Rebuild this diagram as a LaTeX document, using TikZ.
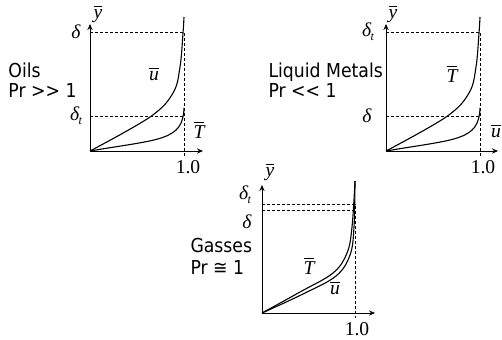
\documentclass[tikz,border=0pt]{standalone}
\usepackage{fontspec}
\setmainfont[FakeStretch=0.9]{DejaVu Sans}
\newfontfamily\tms{Liberation Serif}
\usetikzlibrary{arrows.meta, positioning}
\newcommand{\barit}[1]{$\overline{\hbox{\tms\itshape #1}}$}
\newcommand{\dlt}{{\tms\itshape δ}}
\newcommand{\dltt}{{\tms\itshape δ\kern-0.3pt\raisebox{-0.45ex}{\fontsize{6}{7}\selectfont t}}}
\tikzset{
  every picture/.style={x=0.5pt, y=-0.5pt, line width=0.5pt},
  axis/.style={-{Stealth[length=3pt, width=2.6pt]}},
  guide/.style={dash pattern=on 1.5pt off 1pt},
  profile/.style={line width=0.55pt},
  sym/.style={font=\tms\fontsize{9.8}{12}\selectfont, inner sep=0pt},
  fluid/.style={font=\fontsize{9.6}{10}\selectfont, align=left, anchor=west, inner sep=0pt},
}

\begin{document}
\begin{tikzpicture}
  \useasboundingbox (0,0) rectangle (502,339);

  % oils, Pr >> 1
  \begin{scope}[shift={(90,151)}]
    \coordinate (o1) at (0,0);
    \draw[axis] (o1) -- (0,-127) coordinate (ytip1);
    \draw[axis] (o1) -- (113,0) coordinate (xtip1);
    \draw[guide] (0,-119) -- (94,-119) -- (94,6);
    \draw[guide] (0,-35) -- (94,-35);
    \draw[profile] plot[smooth, tension=0.6] coordinates {(0,0) (60,-34) (83,-58) (90,-84) (93,-118) (94,-134)};
    \draw[profile] (o1) .. controls (70,-12) and (93,-10) .. (94,-43);
  \end{scope}
  \node[fluid] (oils) at (8,80) {Oils\\Pr >{}> 1};
  \node[sym] (y1) at (98,14) {\barit{y}};
  \node[sym] (d1) at (76,32) {\dlt};
  \node[sym] (dt1) at (76,116) {\dltt};
  \node[sym] (u1) at (154,74) {\barit{u}};
  \node[sym] (T1) at (199,130) {\barit{T}};
  \node[sym] (one1) at (188,167) {1.0};

  % liquid metals, Pr << 1
  \begin{scope}[shift={(386,151)}]
    \coordinate (o2) at (0,0);
    \draw[axis] (o2) -- (0,-127) coordinate (ytip2);
    \draw[axis] (o2) -- (112,0) coordinate (xtip2);
    \draw[guide] (0,-119) -- (94,-119) -- (94,6);
    \draw[guide] (0,-35) -- (94,-35);
    \draw[profile] plot[smooth, tension=0.6] coordinates {(0,0) (60,-34) (83,-58) (90,-84) (93,-118) (94,-134)};
    \draw[profile] (o2) .. controls (70,-12) and (93,-10) .. (94,-43);
  \end{scope}
  \node[fluid] (metals) at (268,80) {Liquid Metals\\Pr <{}< 1};
  \node[sym] (y2) at (393,14) {\barit{y}};
  \node[sym] (dt2) at (368,32) {\dltt};
  \node[sym] (d2) at (367,116) {\dlt};
  \node[sym] (T2) at (452,74) {\barit{T}};
  \node[sym] (u2) at (496,131) {\barit{u}};
  \node[sym] (one2) at (483,167) {1.0};

  % gasses, Pr ~ 1
  \begin{scope}[shift={(262,313)}]
    \coordinate (o3) at (0,0);
    \draw[axis] (o3) -- (0,-128) coordinate (ytip3);
    \draw[axis] (o3) -- (113,0) coordinate (xtip3);
    \draw[guide] (0,-109) -- (93,-109) -- (93,5);
    \draw[guide] (0,-103) -- (93,-103);
    \draw[profile] plot[smooth, tension=0.6] coordinates {(0,0) (38,-21) (71,-40) (85,-60) (90,-86) (93,-132)};
    \draw[profile] plot[smooth, tension=0.6] coordinates {(0,0) (41,-19) (74,-37) (88,-58) (92,-86) (93,-132)};
  \end{scope}
  \node[fluid, font=\fontsize{9.6}{11}\selectfont] (gasses) at (190,256) {Gasses\\Pr ≅ 1};
  \node[sym] (y3) at (270,172) {\barit{y}};
  \node[sym] (dt3) at (245,195) {\dltt};
  \node[sym] (d3) at (247,222) {\dlt};
  \node[sym] (T3) at (309,266) {\barit{T}};
  \node[sym] (u3) at (335,288) {\barit{u}};
  \node[sym] (one3) at (357,329) {1.0};
\end{tikzpicture}
\end{document}
